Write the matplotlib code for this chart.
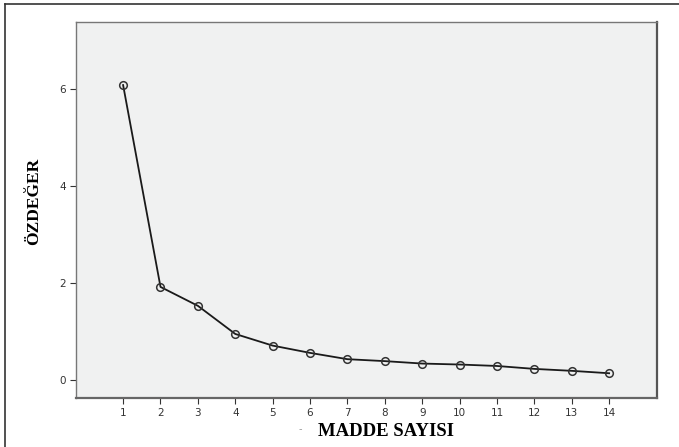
import numpy as np
import matplotlib.pyplot as plt
from matplotlib.lines import Line2D

# scree plot values
madde = np.arange(1, 15)
ozdeger = [6.08, 1.92, 1.53, 0.95, 0.71, 0.56, 0.43, 0.39, 0.34, 0.32, 0.29, 0.23, 0.19, 0.14]
y_ticks = [0, 2, 4, 6]

fig = plt.figure(figsize=(6.79, 4.47), dpi=100)
ax = fig.add_axes([76/679, 1 - 398/447, (657-76)/679, (398-22)/447])
ax.set_facecolor('#f0f1f1')

ax.plot(madde, ozdeger, color='#1a1a1a', lw=1.3, marker='o', ms=5.5,
        mfc='none', mec='#333333', mew=1.1)

ax.set_xlim(-0.26, 15.28)
ax.set_ylim(-0.37, 7.38)
ax.set_xticks(madde)
ax.set_yticks(y_ticks)
ax.tick_params(labelsize=7.5, colors='#333333', length=4, width=0.8)
for t in ax.get_xticklabels() + ax.get_yticklabels():
    t.set_color('#333333')

for s in ['left', 'top']:
    ax.spines[s].set_color('#777777')
    ax.spines[s].set_linewidth(1.0)
ax.spines['right'].set_color('#555555')
ax.spines['right'].set_linewidth(1.6)
ax.spines['bottom'].set_linewidth(1.6)
ax.spines['bottom'].set_color('#666666')

fig.text(34/679, 1 - 201/447, 'ÖZDEĞER', rotation=90, ha='center', va='center',
         family='Liberation Serif', weight='bold', fontsize=12.5)
fig.text(386/679, 1 - 431/447, 'MADDE SAYISI', ha='center', va='center',
         family='Liberation Serif', weight='bold', fontsize=13.5)
fig.text(300/679, 1 - 429/447, '-', ha='center', va='center', fontsize=7, color='#999999')

# outer frame lines
fig.add_artist(Line2D([5/679, 1], [1 - 4/447, 1 - 4/447], color='#333333', lw=1.2))
fig.add_artist(Line2D([5/679, 5/679], [0, 1 - 4/447], color='#333333', lw=1.2))

fig.savefig('out.png', dpi=100)
